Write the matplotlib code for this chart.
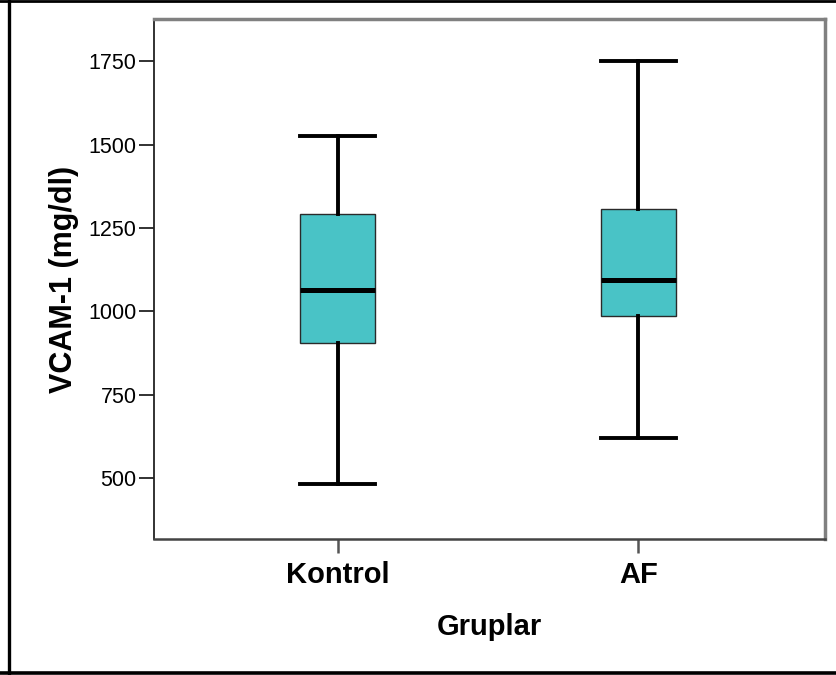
import matplotlib
matplotlib.use('Agg')
import matplotlib.pyplot as plt
from matplotlib.lines import Line2D

# group names and box statistics
groups = ['Kontrol', 'AF']
medians = [1063, 1093]
q1_vals = [906, 987]
q3_vals = [1291, 1308]
whisker_low = [483, 621]
whisker_high = [1526, 1751]

yticks = [500, 750, 1000, 1250, 1500, 1750]

stats = []
for i in range(len(groups)):
    stats.append({'label': groups[i], 'med': medians[i], 'q1': q1_vals[i],
                  'q3': q3_vals[i], 'whislo': whisker_low[i],
                  'whishi': whisker_high[i], 'fliers': []})

fig = plt.figure(figsize=(8.37, 6.75), dpi=100)
ax = fig.add_axes([0.184, 0.2015, 0.8017, 0.7704])

ax.bxp(stats, positions=range(len(groups)), widths=0.25, patch_artist=True,
       showfliers=False,
       boxprops=dict(facecolor='#49c3c6', edgecolor='#2a2a2a', linewidth=1.0),
       medianprops=dict(color='black', linewidth=3.6, solid_capstyle='butt'),
       whiskerprops=dict(color='black', linewidth=2.8),
       capprops=dict(color='black', linewidth=2.8),
       capwidths=0.25)

ax.set_xlim(-0.61, 1.62)
ax.set_ylim(317, 1877)
ax.set_yticks(yticks)
ax.set_yticklabels([str(v) for v in yticks], family='Liberation Sans', fontsize=15.5)
ax.set_xticks(range(len(groups)))
ax.set_xticklabels(groups, family='Liberation Sans', fontsize=21, fontweight='bold')

ax.tick_params(axis='y', length=11, width=1.3, color='#222222', pad=1.5)
ax.tick_params(axis='x', length=10, width=1.8, color='#555555', pad=6)

ax.set_ylabel('VCAM-1 (mg/dl)', family='Liberation Sans', fontsize=22,
              fontweight='bold', labelpad=7)
ax.set_xlabel('Gruplar', family='Liberation Sans', fontsize=21,
              fontweight='bold', labelpad=17)

ax.spines['left'].set_color('#222222')
ax.spines['left'].set_linewidth(1.3)
ax.spines['bottom'].set_color('#444444')
ax.spines['bottom'].set_linewidth(1.8)
ax.spines['top'].set_color('#808080')
ax.spines['top'].set_linewidth(2.5)
ax.spines['right'].set_color('#808080')
ax.spines['right'].set_linewidth(2.5)

# outer frame: left, top and bottom edges only
fig.add_artist(Line2D([0.0113, 0.0113], [0, 1], color='black', linewidth=2.4))
fig.add_artist(Line2D([0, 1], [0.9985, 0.9985], color='black', linewidth=2.0))
fig.add_artist(Line2D([0, 1], [0.003, 0.003], color='black', linewidth=2.6))

fig.savefig('out.png', dpi=100)
